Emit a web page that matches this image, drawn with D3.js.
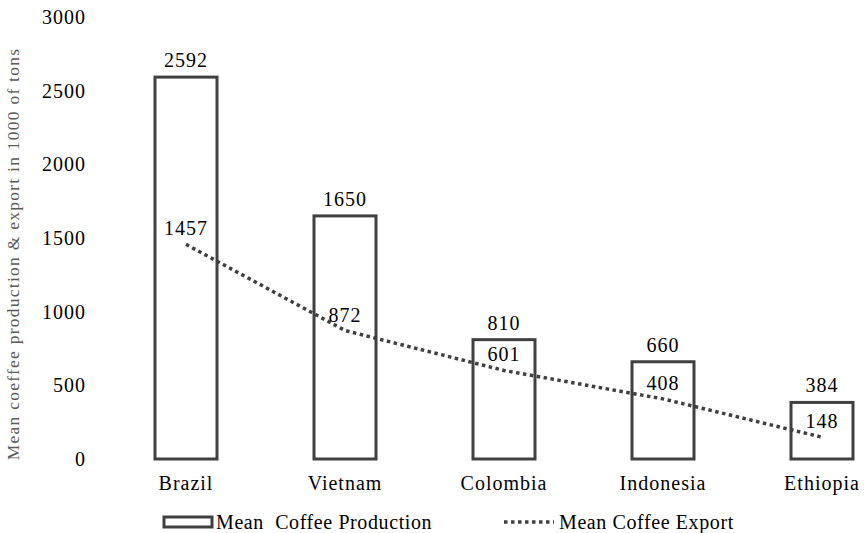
<!DOCTYPE html>
<html>
<head>
<meta charset="utf-8">
<script src="https://cdn.jsdelivr.net/npm/d3@7"></script>
<style>
  body { margin: 0; background: #fff; }
</style>
</head>
<body>
<div id="chart"></div>
<script>
// data
const countries = ["Brazil", "Vietnam", "Colombia", "Indonesia", "Ethiopia"];
const production = [2592, 1650, 810, 660, 384];
const exportVals = [1457, 872, 601, 408, 148];
const yTicks = [0, 500, 1000, 1500, 2000, 2500, 3000];

const data = countries.map((c, i) => ({ name: c, prod: production[i], exp: exportVals[i] }));

/** CONSTANTS */
const width = 864;
const height = 533;
const margins = { top: 17, bottom: 74, left: 186, right: 42 };
const ink = "#404040";
const serif = "'Liberation Serif', 'Times New Roman', 'DejaVu Serif', serif";

/** SCALES */
const xScale = d3.scalePoint()
  .domain(countries)
  .range([margins.left, width - margins.right]);

const yScale = d3.scaleLinear()
  .domain([0, 3000])
  .range([height - margins.bottom, margins.top]);

const barW = 62;

/** DRAWING ELEMENTS */
const svg = d3.select("#chart")
  .append("svg")
  .attr("width", width)
  .attr("height", height)
  .style("font-family", serif);

// y tick labels (no axis line)
svg.selectAll("text.ytick")
  .data(yTicks)
  .join("text")
  .attr("class", "ytick")
  .attr("x", 86)
  .attr("y", d => yScale(d))
  .attr("dy", "0.35em")
  .attr("text-anchor", "end")
  .attr("font-size", 20)
  .attr("letter-spacing", 1)
  .text(d => d);

// y axis title
svg.append("text")
  .attr("transform", `translate(19, ${254}) rotate(-90)`)
  .attr("text-anchor", "middle")
  .attr("font-size", 17.5)
  .attr("fill", "#5a5a5a")
  .attr("letter-spacing", 1.25)
  .text("Mean coeffee production & export in 1000 of tons");

// bars
svg.selectAll("rect.bar")
  .data(data)
  .join("rect")
  .attr("class", "bar")
  .attr("x", d => xScale(d.name) - barW / 2)
  .attr("y", d => yScale(d.prod))
  .attr("width", barW)
  .attr("height", d => yScale(0) - yScale(d.prod))
  .attr("fill", "#fff")
  .attr("stroke", ink)
  .attr("stroke-width", 3);

// production labels
svg.selectAll("text.prod")
  .data(data)
  .join("text")
  .attr("class", "prod")
  .attr("x", d => xScale(d.name))
  .attr("y", d => yScale(d.prod) - 10)
  .attr("text-anchor", "middle")
  .attr("font-size", 20)
  .attr("letter-spacing", 1)
  .text(d => d.prod);

// export line
const line = d3.line()
  .x(d => xScale(d.name))
  .y(d => yScale(d.exp));

svg.append("path")
  .datum(data)
  .attr("d", line)
  .attr("fill", "none")
  .attr("stroke", ink)
  .attr("stroke-width", 3.5)
  .attr("stroke-dasharray", "3.5,3.5");

// export labels
svg.selectAll("text.exp")
  .data(data)
  .join("text")
  .attr("class", "exp")
  .attr("x", d => xScale(d.name))
  .attr("y", d => yScale(d.exp) - 9)
  .attr("text-anchor", "middle")
  .attr("font-size", 20)
  .attr("letter-spacing", 1)
  .text(d => d.exp);

// category labels
svg.selectAll("text.cat")
  .data(data)
  .join("text")
  .attr("class", "cat")
  .attr("x", d => xScale(d.name))
  .attr("y", 490)
  .attr("text-anchor", "middle")
  .attr("font-size", 20)
  .attr("letter-spacing", 1)
  .text(d => d.name);

// legend
const legend = svg.append("g");
legend.append("rect")
  .attr("x", 164).attr("y", 517)
  .attr("width", 48).attr("height", 10)
  .attr("fill", "#fff")
  .attr("stroke", ink)
  .attr("stroke-width", 3);
legend.append("text")
  .attr("x", 216).attr("y", 529)
  .attr("font-size", 20)
  .attr("letter-spacing", 0.6)
  .attr("xml:space", "preserve")
  .text("Mean  Coffee Production");
legend.append("line")
  .attr("x1", 504).attr("x2", 554)
  .attr("y1", 522).attr("y2", 522)
  .attr("stroke", ink)
  .attr("stroke-width", 3.5)
  .attr("stroke-dasharray", "3.5,3.5");
legend.append("text")
  .attr("x", 559).attr("y", 529)
  .attr("font-size", 20)
  .attr("letter-spacing", 0.6)
  .text("Mean Coffee Export");
</script>
</body>
</html>
